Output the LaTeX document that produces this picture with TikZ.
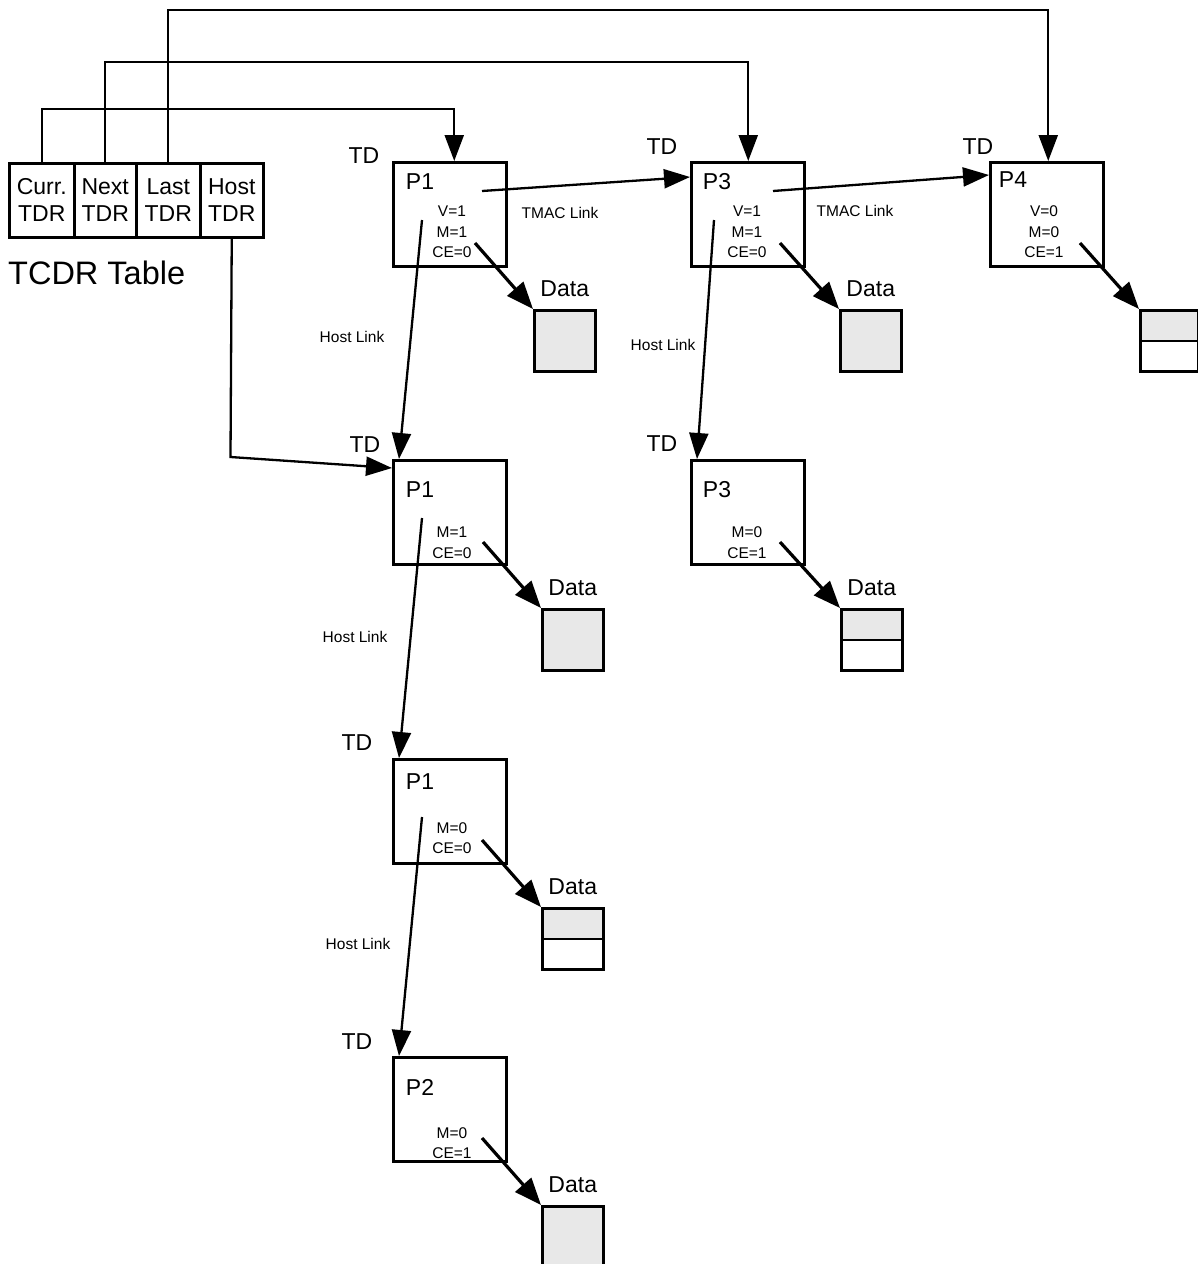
\documentclass[tikz,border=0pt]{standalone}
\usepackage{fontspec}
\setmainfont{Liberation Sans}
\usetikzlibrary{arrows.meta,positioning}
\definecolor{datagray}{RGB}{232,232,232}
\tikzset{
  tdbox/.style={draw,line width=2.5pt,minimum width=113pt,minimum height=104pt,inner sep=0pt,anchor=north west},
  tdrcell/.style={draw,line width=2.5pt,minimum height=74pt,inner sep=0pt,anchor=north west,align=center,font=\fontsize{23}{27}\selectfont},
  bigtext/.style={inner sep=0pt,font=\fontsize{23}{27}\selectfont},
  flagtext/.style={inner sep=0pt,align=center,font=\fontsize{15.5}{20.5}\selectfont},
  linktext/.style={inner sep=0pt,font=\fontsize{15.5}{18}\selectfont},
  datafull/.style={draw,fill=datagray,line width=2.5pt,minimum width=61pt,minimum height=61pt,inner sep=0pt,anchor=north west},
  datasplit/.style={draw,fill=white,line width=2.5pt,minimum width=61pt,minimum height=61pt,inner sep=0pt,anchor=north west,
    path picture={
      \fill[datagray] (path picture bounding box.north west) rectangle (path picture bounding box.east);
      \draw[line width=2.5pt] (path picture bounding box.west) -- (path picture bounding box.east);
    }},
  link/.style={line width=2.3pt,-{Triangle[length=26pt,width=19pt]}},
  dataarrow/.style={line width=3.2pt,-{Triangle[length=27pt,width=21pt]}},
}
\begin{document}
\begin{tikzpicture}[x=1pt,y=-1pt]
   \useasboundingbox (0,0) rectangle (1198,1264);

   % TCDR table
   \node[tdrcell,minimum width=65pt] (curr) at (8,162) {Curr.\\TDR};
   \node[tdrcell,minimum width=62pt] (next) at (73,162) {Next\\TDR};
   \node[tdrcell,minimum width=64pt] (last) at (135,162) {Last\\TDR};
   \node[tdrcell,minimum width=63pt] (host) at (199,162) {Host\\TDR};
   \node[inner sep=0pt,anchor=west,font=\fontsize{32.5}{36}\selectfont] (tcdr) at (8,273) {TCDR Table};

   % TDs
   \node[tdbox] (p1a) at (392,161) {};
   \node[tdbox] (p3a) at (690,161) {};
   \node[tdbox] (p4a) at (989,161) {};
   \node[tdbox] (p1b) at (392,459) {};
   \node[tdbox] (p3b) at (690,459) {};
   \node[tdbox] (p1c) at (392,758) {};
   \node[tdbox] (p2a) at (392,1056) {};

   \node[bigtext] (td1a) at (364,156) {TD};
   \node[bigtext] (td3a) at (662,147) {TD};
   \node[bigtext] (td4a) at (978,147) {TD};
   \node[bigtext] (td1b) at (365,445) {TD};
   \node[bigtext] (td3b) at (662,444) {TD};
   \node[bigtext] (td1c) at (357,743) {TD};
   \node[bigtext] (td2a) at (357,1042) {TD};

   \node[bigtext] (n1a) at (420,182) {P1};
   \node[bigtext] (n3a) at (717,182) {P3};
   \node[bigtext] (n4a) at (1013,180) {P4};
   \node[bigtext] (n1b) at (420,490) {P1};
   \node[bigtext] (n3b) at (717,490) {P3};
   \node[bigtext] (n1c) at (420,782) {P1};
   \node[bigtext] (n2a) at (420,1087) {P2};

   \node[flagtext] (f1a) at (452,232) {V=1\\M=1\\CE=0};
   \node[flagtext] (f3a) at (747,232) {V=1\\M=1\\CE=0};
   \node[flagtext] (f4a) at (1044,232) {V=0\\M=0\\CE=1};
   \node[flagtext] (f1b) at (452,542.5) {M=1\\CE=0};
   \node[flagtext] (f3b) at (747,542.5) {M=0\\CE=1};
   \node[flagtext] (f1c) at (452,838) {M=0\\CE=0};
   \node[flagtext] (f2a) at (452,1143) {M=0\\CE=1};

   % data buffers
   \node[datafull] (d1a) at (533,309) {};
   \node[datafull] (d3a) at (839,309) {};
   \node[datasplit,minimum width=58pt] (d4a) at (1139,309) {};
   \node[datafull] (d1b) at (541,608) {};
   \node[datasplit] (d3b) at (840,608) {};
   \node[datasplit] (d1c) at (541,907) {};
   \node[datafull] (d2a) at (541,1205) {};

   \node[bigtext,above=12pt of d1a] (l1a) {Data};
   \node[bigtext,above=12pt of d3a] (l3a) {Data};
   \node[bigtext,above=12pt of d1b] (l1b) {Data};
   \node[bigtext,above=12pt of d3b] (l3b) {Data};
   \node[bigtext,above=12pt of d1c] (l1c) {Data};
   \node[bigtext,above=12pt of d2a] (l2a) {Data};

   % link starts inside the TDs
   \coordinate (t1a) at (482,191);
   \coordinate (t3a) at (773,191);
   \coordinate (h1a) at (422,220);
   \coordinate (h3a) at (714,220);
   \coordinate (h1b) at (422,518);
   \coordinate (h1c) at (422,817);
   \coordinate (s1a) at (475,243);
   \coordinate (s3a) at (780,243);
   \coordinate (s4a) at (1080,243);
   \coordinate (s1b) at (483,542);
   \coordinate (s3b) at (780,542);
   \coordinate (s1c) at (482,840);
   \coordinate (s2a) at (482,1138);
   \coordinate (hostbend) at (230.5,457);

   % table pointers
   \draw[link] (curr.north) -- ++(0,-53) -| ([xshift=4.5pt]p1a.north);
   \draw[link] (next.north) -- ++(0,-100) -| ([xshift=0.5pt]p3a.north);
   \draw[link] (last.north) -- ++(0,-152) -| ([xshift=1.5pt]p4a.north);
   \draw[link] (host.south) -- (hostbend) -- ([yshift=-9pt]p1b.north west);

   % TMAC links
   \draw[link] (t1a) -- ([yshift=-16pt]p3a.north west);
   \draw[link] (t3a) -- ([yshift=-14pt]p4a.north west);
   \node[linktext] (tm1) at (560,213) {TMAC Link};
   \node[linktext] (tm3) at (855,211) {TMAC Link};

   % host links
   \draw[link] (h1a) -- ([xshift=7pt]p1b.north west);
   \draw[link] (h3a) -- ([xshift=7pt]p3b.north west);
   \draw[link] (h1b) -- ([xshift=7pt]p1c.north west);
   \draw[link] (h1c) -- ([xshift=7pt]p2a.north west);
   \node[linktext] (hl1a) at (352,337) {Host Link};
   \node[linktext] (hl3a) at (663,345) {Host Link};
   \node[linktext] (hl1b) at (355,637) {Host Link};
   \node[linktext] (hl1c) at (358,944) {Host Link};

   % data pointers
   \draw[dataarrow] (s1a) -- (d1a.north west);
   \draw[dataarrow] (s3a) -- (d3a.north west);
   \draw[dataarrow] (s4a) -- (d4a.north west);
   \draw[dataarrow] (s1b) -- (d1b.north west);
   \draw[dataarrow] (s3b) -- (d3b.north west);
   \draw[dataarrow] (s1c) -- (d1c.north west);
   \draw[dataarrow] (s2a) -- (d2a.north west);
\end{tikzpicture}
\end{document}
